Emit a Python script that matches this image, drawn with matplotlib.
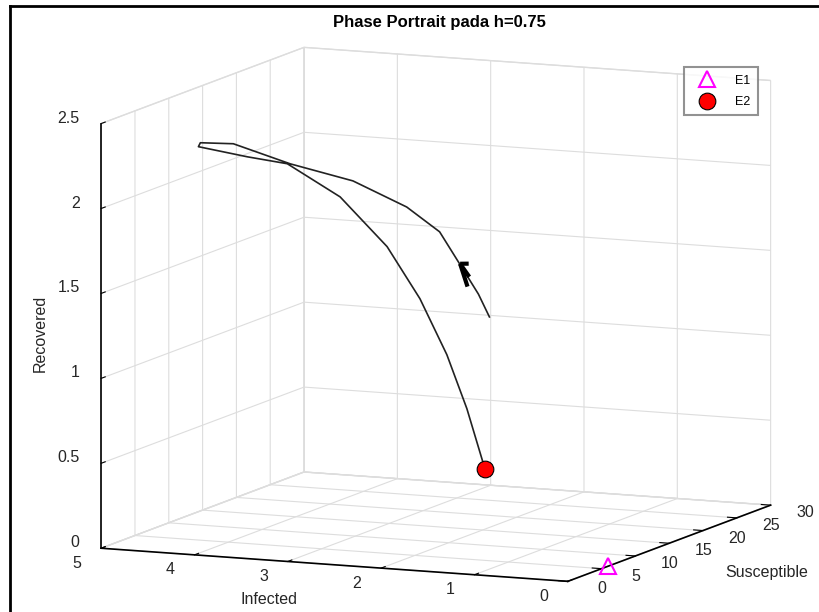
import matplotlib
matplotlib.use("Agg")
import matplotlib.pyplot as plt
from matplotlib.lines import Line2D
from mpl_toolkits.mplot3d import proj3d
import numpy as np

plt.rcParams['font.family'] = ['Liberation Sans', 'DejaVu Sans']

# Trajectory (Susceptible, Infected, Recovered)
S_traj = [14.0, 13.7, 13.3, 12.5, 11.5, 10.0, 8.5, 7.0, 6.5, 6.5,
          7.0, 7.5, 8.0, 8.5, 9.0, 9.5, 9.8, 10.0]
I_traj = [1.854, 1.95, 2.09, 2.279, 2.559, 3.027, 3.591, 4.091, 4.408, 4.429,
          3.941, 3.549, 3.019, 2.552, 2.236, 1.984, 1.791, 1.613]
R_traj = [1.275, 1.41, 1.56, 1.782, 1.932, 2.090, 2.191, 2.312, 2.313, 2.289,
          2.241, 2.208, 2.026, 1.744, 1.442, 1.115, 0.800, 0.451]

# Equilibria
E1 = (6.0, 0.0, 0.0)
E2 = (10.0, 1.613, 0.451)

# Direction arrow (tip position and direction)
arrow_pos = (13.2, 2.11, 1.59)
arrow_dir = (-1.0, 0.28, 0.28)

S_ticks = [0, 5, 10, 15, 20, 25, 30]
I_ticks = [0, 1, 2, 3, 4, 5]
R_ticks = [0, 0.5, 1, 1.5, 2, 2.5]
S_ticklabels = ['0', '5', '10', '15', '20', '25', '30']
I_ticklabels = ['0', '1', '2', '3', '4', '5']
R_ticklabels = ['0', '0.5', '1', '1.5', '2', '2.5']

TXT = '#262626'
FS = 11.5

fig = plt.figure(figsize=(8.2, 6.12), dpi=100)
ax = fig.add_axes([0.032, -0.0015, 0.98, 0.95], projection='3d')
ax.set_proj_type('ortho')
ax.view_init(elev=9.4, azim=-156.5)
ax.set_box_aspect((1, 1, 0.846), zoom=1.40)

ax.plot(S_traj, I_traj, R_traj, color='#222222', lw=1.2)
ax.quiver(*arrow_pos, *arrow_dir, length=0.3, normalize=True, color='black',
          lw=3.0, arrow_length_ratio=0.9, pivot='tip')
h1, = ax.plot([E1[0]], [E1[1]], [E1[2]], linestyle='none', marker='^', ms=11.5,
              mfc='none', mec='#ff00ff', mew=1.5, label='E1')
h2, = ax.plot([E2[0]], [E2[1]], [E2[2]], linestyle='none', marker='o', ms=12,
              mfc='red', mec='black', mew=0.8, label='E2')

ax.set_xlim(S_ticks[0], S_ticks[-1])
ax.set_ylim(I_ticks[0], I_ticks[-1])
ax.set_zlim(R_ticks[0], R_ticks[-1])
ax.set_xticks(S_ticks)
ax.set_yticks(I_ticks)
ax.set_zticks(R_ticks)

for a in (ax.xaxis, ax.yaxis, ax.zaxis):
    a.set_pane_color((1, 1, 1, 1))
    a.pane.set_edgecolor('#dddddd')
    a._axinfo['grid']['color'] = '#dddddd'
    a._axinfo['grid']['linewidth'] = 0.8
    a._axinfo['tick']['inward_factor'] = 0.0
    a._axinfo['tick']['outward_factor'] = 0.25
    a._axinfo['tick']['color'] = '#262626'
    a.line.set_color('black')
    a.line.set_linewidth(1.2)
    # tick labels are re-placed MATLAB-style below
    a.set_tick_params(labelbottom=False, labelleft=False)
    for t in a.get_major_ticks():
        t.label1.set_visible(False)
        t.label2.set_visible(False)
    a.label.set_visible(False)
    a.offsetText.set_visible(False)

# Tick labels: positions given in data space, projected with the axes' own projection
M = ax.get_proj()


def label3d(x, y, z, s, **kw):
    px, py, _ = proj3d.proj_transform(x, y, z, M)
    ax.text2D(px, py, s, transform=ax.transData, fontsize=FS, color=TXT, **kw)


for v, s in zip(S_ticks, S_ticklabels):
    label3d(v, I_ticks[0] - 0.37, R_ticks[0] - 0.03, s, ha='center', va='center')
for v, s in zip(I_ticks, I_ticklabels):
    label3d(S_ticks[0] - 3.6, v, R_ticks[0] - 0.035, s, ha='center', va='center')
for v, s in zip(R_ticks, R_ticklabels):
    label3d(S_ticks[0] - 3.2, I_ticks[-1], v + 0.08, s, ha='right', va='center')

fig.text(767 / 820, 1 - 572 / 612, 'Susceptible', ha='center', va='center',
         fontsize=FS, color=TXT)
fig.text(269 / 820, 1 - 599 / 612, 'Infected', ha='center', va='center',
         fontsize=FS, color=TXT)
fig.text(40 / 820, 1 - 333 / 612, 'Recovered', ha='center', va='center',
         rotation=90, fontsize=FS, color=TXT)

fig.text(439 / 820, 1 - 22 / 612, 'Phase Portrait pada h=0.75', ha='center', va='center',
         fontsize=12, fontweight='bold')

leg = fig.legend(handles=[h1, h2], loc='upper left',
                 bbox_to_anchor=(684 / 820, 1 - 67 / 612), fontsize=9,
                 frameon=True, fancybox=False, edgecolor='#777777',
                 handlelength=2.5, handletextpad=1.0, borderpad=0.6,
                 labelspacing=0.75, borderaxespad=0)
leg.get_frame().set_linewidth(1.5)

fig.add_artist(Line2D([10.5 / 820, 10.5 / 820], [0, 1 - 6 / 612], color='black', lw=2))
fig.add_artist(Line2D([10.5 / 820, 1], [1 - 6 / 612, 1 - 6 / 612], color='black', lw=2))

fig.savefig('out.png', dpi=100)
